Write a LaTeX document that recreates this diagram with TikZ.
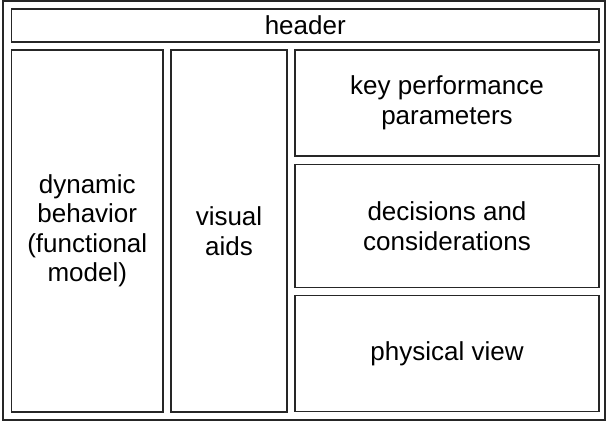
\documentclass[tikz,border=0pt]{standalone}
\usepackage{fontspec}
\setmainfont{Liberation Sans}
\usetikzlibrary{
  positioning % for below=of, right=of
}
\tikzstyle{panel} = [rectangle, draw=black!85, line width=1.3pt, outer sep=0pt, inner sep=0pt, align=center, font=\fontsize{26}{29.5}\selectfont]
\tikzstyle{framebox} = [draw=black!85, line width=1.3pt]

\begin{document}
\begin{tikzpicture}[x=1pt, y=-1pt, node distance=8pt]
\useasboundingbox (0,0) rectangle (608,421);
\draw[framebox] (3,1) rectangle (605,420);
  % header row
\node[panel, minimum width=587.5pt, minimum height=33pt, anchor=north west](header) at (11.5,9) {header};
  % left columns
\node[panel, minimum width=151.5pt, minimum height=362pt](dynamic) [below=of header.south west, anchor=north west] {dynamic\\behavior\\(functional\\model)};
\node[panel, minimum width=116pt, minimum height=362pt](visual) [right=of dynamic.north east, anchor=north west] {visual\\aids};
  % right stack
\node[panel, minimum width=304pt, minimum height=106pt](kpp) [right=of visual.north east, anchor=north west] {key performance\\parameters};
\node[panel, minimum width=304pt, minimum height=123pt](decisions) [below=8.5pt of kpp] {decisions and\\considerations};
\node[panel, minimum width=304pt, minimum height=116pt](physical) [below=of decisions] {physical view};
\end{tikzpicture}
\end{document}
